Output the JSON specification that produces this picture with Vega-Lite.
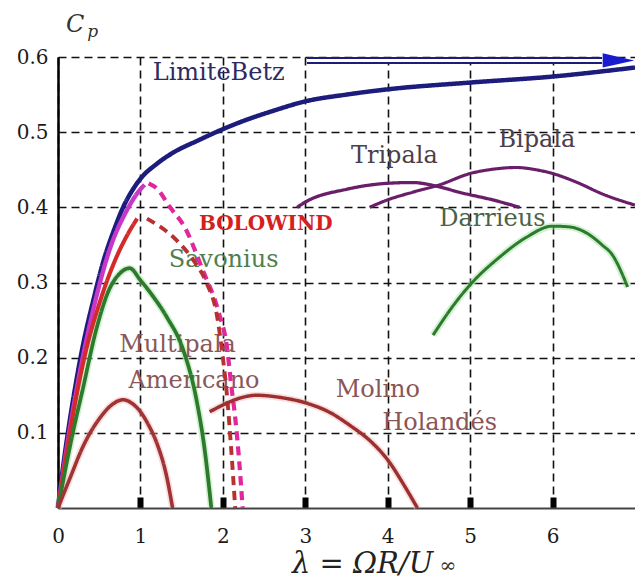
{
  "$schema": "https://vega.github.io/schema/vega-lite/v6.json",
  "width": 577,
  "height": 451,
  "autosize": {"type": "none"},
  "padding": {"left": 58, "top": 57, "right": 0, "bottom": 71},
  "background": "white",
  "config": {"view": {"stroke": null}, "font": "DejaVu Serif"},
  "resolve": {"scale": {"color": "independent", "strokeDash": "independent", "strokeWidth": "independent"}},
  "datasets": {
    "curves": [
      {"s": "ideal", "x": 0, "y": 0}, {"s": "ideal", "x": 0.05, "y": 0.045}, {"s": "ideal", "x": 0.12, "y": 0.1}, {"s": "ideal", "x": 0.2, "y": 0.155}, {"s": "ideal", "x": 0.3, "y": 0.215}, {"s": "ideal", "x": 0.43, "y": 0.277}, {"s": "ideal", "x": 0.55, "y": 0.328}, {"s": "ideal", "x": 0.68, "y": 0.37}, {"s": "ideal", "x": 0.79, "y": 0.4}, {"s": "ideal", "x": 0.91, "y": 0.424}, {"s": "ideal", "x": 1.0, "y": 0.438}, {"s": "ideal", "x": 1.2, "y": 0.458}, {"s": "ideal", "x": 1.4, "y": 0.473}, {"s": "ideal", "x": 1.7, "y": 0.489}, {"s": "ideal", "x": 2.0, "y": 0.504}, {"s": "ideal", "x": 2.3, "y": 0.517}, {"s": "ideal", "x": 2.6, "y": 0.528}, {"s": "ideal", "x": 3.0, "y": 0.541}, {"s": "ideal", "x": 3.5, "y": 0.55}, {"s": "ideal", "x": 4.0, "y": 0.557}, {"s": "ideal", "x": 5.0, "y": 0.566}, {"s": "ideal", "x": 6.0, "y": 0.574}, {"s": "ideal", "x": 7.0, "y": 0.586},
      {"s": "magenta", "x": 0, "y": 0}, {"s": "magenta", "x": 0.12, "y": 0.09}, {"s": "magenta", "x": 0.3, "y": 0.2}, {"s": "magenta", "x": 0.43, "y": 0.265}, {"s": "magenta", "x": 0.63, "y": 0.345}, {"s": "magenta", "x": 0.84, "y": 0.397}, {"s": "magenta", "x": 0.97, "y": 0.42}, {"s": "magenta", "x": 1.05, "y": 0.43},
      {"s": "magentaDash", "x": 1.1, "y": 0.432}, {"s": "magentaDash", "x": 1.2, "y": 0.425}, {"s": "magentaDash", "x": 1.36, "y": 0.4}, {"s": "magentaDash", "x": 1.54, "y": 0.373}, {"s": "magentaDash", "x": 1.75, "y": 0.318}, {"s": "magentaDash", "x": 1.95, "y": 0.26}, {"s": "magentaDash", "x": 2.05, "y": 0.214}, {"s": "magentaDash", "x": 2.1, "y": 0.165}, {"s": "magentaDash", "x": 2.15, "y": 0.12}, {"s": "magentaDash", "x": 2.2, "y": 0.06}, {"s": "magentaDash", "x": 2.24, "y": 0},
      {"s": "red", "x": 0, "y": 0}, {"s": "red", "x": 0.1, "y": 0.07}, {"s": "red", "x": 0.2, "y": 0.135}, {"s": "red", "x": 0.33, "y": 0.205}, {"s": "red", "x": 0.51, "y": 0.275}, {"s": "red", "x": 0.71, "y": 0.334}, {"s": "red", "x": 0.85, "y": 0.365}, {"s": "red", "x": 0.96, "y": 0.385},
      {"s": "redDash", "x": 1.08, "y": 0.385}, {"s": "redDash", "x": 1.44, "y": 0.356}, {"s": "redDash", "x": 1.64, "y": 0.33}, {"s": "redDash", "x": 1.8, "y": 0.3}, {"s": "redDash", "x": 1.93, "y": 0.255}, {"s": "redDash", "x": 2.0, "y": 0.2}, {"s": "redDash", "x": 2.05, "y": 0.15}, {"s": "redDash", "x": 2.1, "y": 0.08}, {"s": "redDash", "x": 2.15, "y": 0},
      {"s": "savonius", "x": 0, "y": 0}, {"s": "savonius", "x": 0.18, "y": 0.1}, {"s": "savonius", "x": 0.3, "y": 0.158}, {"s": "savonius", "x": 0.47, "y": 0.24}, {"s": "savonius", "x": 0.61, "y": 0.288}, {"s": "savonius", "x": 0.75, "y": 0.312}, {"s": "savonius", "x": 0.87, "y": 0.319}, {"s": "savonius", "x": 1.0, "y": 0.303}, {"s": "savonius", "x": 1.15, "y": 0.282}, {"s": "savonius", "x": 1.32, "y": 0.254}, {"s": "savonius", "x": 1.52, "y": 0.21}, {"s": "savonius", "x": 1.68, "y": 0.144}, {"s": "savonius", "x": 1.78, "y": 0.077}, {"s": "savonius", "x": 1.86, "y": 0},
      {"s": "multipala", "x": 0, "y": 0}, {"s": "multipala", "x": 0.15, "y": 0.041}, {"s": "multipala", "x": 0.3, "y": 0.081}, {"s": "multipala", "x": 0.51, "y": 0.12}, {"s": "multipala", "x": 0.65, "y": 0.137}, {"s": "multipala", "x": 0.79, "y": 0.144}, {"s": "multipala", "x": 0.9, "y": 0.139}, {"s": "multipala", "x": 1.0, "y": 0.128}, {"s": "multipala", "x": 1.1, "y": 0.11}, {"s": "multipala", "x": 1.2, "y": 0.086}, {"s": "multipala", "x": 1.32, "y": 0.041}, {"s": "multipala", "x": 1.39, "y": 0},
      {"s": "molino", "x": 1.84, "y": 0.128}, {"s": "molino", "x": 2.0, "y": 0.137}, {"s": "molino", "x": 2.2, "y": 0.146}, {"s": "molino", "x": 2.41, "y": 0.15}, {"s": "molino", "x": 2.7, "y": 0.147}, {"s": "molino", "x": 3.0, "y": 0.14}, {"s": "molino", "x": 3.3, "y": 0.127}, {"s": "molino", "x": 3.54, "y": 0.11}, {"s": "molino", "x": 3.8, "y": 0.088}, {"s": "molino", "x": 4.0, "y": 0.064}, {"s": "molino", "x": 4.2, "y": 0.03}, {"s": "molino", "x": 4.36, "y": 0},
      {"s": "tripala", "x": 2.9, "y": 0.4}, {"s": "tripala", "x": 3.0, "y": 0.407}, {"s": "tripala", "x": 3.5, "y": 0.424}, {"s": "tripala", "x": 4.0, "y": 0.432}, {"s": "tripala", "x": 4.3, "y": 0.433}, {"s": "tripala", "x": 4.6, "y": 0.428}, {"s": "tripala", "x": 4.87, "y": 0.42}, {"s": "tripala", "x": 5.27, "y": 0.41}, {"s": "tripala", "x": 5.6, "y": 0.4},
      {"s": "bipala", "x": 3.78, "y": 0.4}, {"s": "bipala", "x": 4.0, "y": 0.41}, {"s": "bipala", "x": 4.3, "y": 0.42}, {"s": "bipala", "x": 4.63, "y": 0.43}, {"s": "bipala", "x": 5.0, "y": 0.445}, {"s": "bipala", "x": 5.3, "y": 0.451}, {"s": "bipala", "x": 5.56, "y": 0.453}, {"s": "bipala", "x": 5.8, "y": 0.45}, {"s": "bipala", "x": 6.0, "y": 0.445}, {"s": "bipala", "x": 6.3, "y": 0.433}, {"s": "bipala", "x": 6.6, "y": 0.418}, {"s": "bipala", "x": 7.0, "y": 0.403},
      {"s": "darrieus", "x": 4.55, "y": 0.23}, {"s": "darrieus", "x": 4.8, "y": 0.27}, {"s": "darrieus", "x": 5.0, "y": 0.297}, {"s": "darrieus", "x": 5.36, "y": 0.334}, {"s": "darrieus", "x": 5.68, "y": 0.36}, {"s": "darrieus", "x": 6.0, "y": 0.375}, {"s": "darrieus", "x": 6.2, "y": 0.374}, {"s": "darrieus", "x": 6.41, "y": 0.366}, {"s": "darrieus", "x": 6.6, "y": 0.35}, {"s": "darrieus", "x": 6.73, "y": 0.336}, {"s": "darrieus", "x": 6.85, "y": 0.31}, {"s": "darrieus", "x": 6.91, "y": 0.294}
    ],
    "labels": [
      {"t": "LimiteBetz", "x": 1.95, "y": 0.569},
      {"t": "Tripala", "x": 4.08, "y": 0.459},
      {"t": "Bipala", "x": 5.81, "y": 0.48},
      {"t": "Darrieus", "x": 5.27, "y": 0.375},
      {"t": "Savonius", "x": 2.01, "y": 0.32},
      {"t": "Multipala", "x": 1.45, "y": 0.207},
      {"t": "Americano", "x": 1.65, "y": 0.16},
      {"t": "Molino", "x": 3.88, "y": 0.148},
      {"t": "Holandés", "x": 4.63, "y": 0.104}
    ],
    "bold": [{"t": "BOLOWIND", "x": 2.52, "y": 0.37}],
    "cap": [{"t": "C", "x": 0.21, "y": 0.633}],
    "sub": [{"t": "p", "x": 0.42, "y": 0.627}],
    "inf": [{"t": "∞", "x": 4.73, "y": -0.085}],
    "betz": [{"x": 3.02, "y": 0.5955}, {"x": 6.6, "y": 0.5955}],
    "arrow": [{"x": 6.8, "y": 0.5955}]
  },
  "layer": [
    {
      "data": {"name": "curves"},
      "transform": [{"filter": "indexof(['savonius','darrieus','multipala','molino'], datum.s) >= 0"}],
      "mark": {"type": "line", "strokeWidth": 7, "opacity": 0.45, "interpolate": "monotone"},
      "encoding": {
        "x": {"field": "x", "type": "quantitative", "scale": {"domain": [0, 7], "nice": false, "zero": false},
          "axis": {
            "title": "λ = ΩR/U",
            "values": [0, 1, 2, 3, 4, 5, 6],
            "format": "d",
            "grid": true, "gridColor": "#111", "gridDash": [8, 5], "gridWidth": 1.6,
            "domainColor": "#444", "domainWidth": 2,
            "ticks": true, "tickSize": -11, "tickWidth": 6,
            "tickColor": {"condition": {"test": "datum.value === 0", "value": "transparent"}, "value": "#000"},
            "labelFont": "DejaVu Serif", "labelFontSize": 20, "labelColor": "#1a1a1a", "labelPadding": 29,
            "labelFlush": false, "labelOverlap": false,
            "titleFont": "DejaVu Serif", "titleFontSize": 29, "titleFontStyle": "italic", "titleFontWeight": "normal", "titleColor": "#222",
            "titleX": 304, "titleY": 64, "titleBaseline": "alphabetic", "titleAlign": "center"
          }},
        "y": {"field": "y", "type": "quantitative", "scale": {"domain": [0, 0.6], "nice": false, "zero": false},
          "axis": {
            "title": null,
            "values": [0.1, 0.2, 0.3, 0.4, 0.5, 0.6],
            "format": ".1f",
            "grid": true, "gridColor": "#111", "gridDash": [8, 5], "gridWidth": 1.6,
            "domainColor": "#000", "domainWidth": 2.5,
            "ticks": false,
            "labelFont": "DejaVu Serif", "labelFontSize": 20, "labelColor": "#1a1a1a", "labelPadding": 10
          }},
        "color": {"field": "s", "type": "nominal", "legend": null,
          "scale": {"domain": ["savonius", "darrieus", "multipala", "molino"], "range": ["#9be09b", "#9be09b", "#f2b8b8", "#f2b8b8"]}},
        "detail": {"field": "s"}
      }
    },
    {
      "data": {"name": "labels"},
      "mark": {"type": "text", "font": "DejaVu Serif", "fontSize": 24, "align": "center", "baseline": "alphabetic"},
      "encoding": {
        "x": {"field": "x", "type": "quantitative"},
        "y": {"field": "y", "type": "quantitative"},
        "text": {"field": "t"},
        "color": {"field": "t", "type": "nominal", "legend": null,
          "scale": {"domain": ["LimiteBetz", "Tripala", "Bipala", "Darrieus", "Savonius", "Multipala", "Americano", "Molino", "Holandés"],
            "range": ["#2b2b62", "#4a404a", "#4a404a", "#4a634a", "#4f7f4f", "#8a5858", "#8a5858", "#8a5555", "#8a5555"]}}
      }
    },
    {
      "data": {"name": "bold"},
      "mark": {"type": "text", "font": "DejaVu Serif", "fontSize": 20, "fontWeight": "bold", "align": "center", "baseline": "alphabetic", "color": "#d42020"},
      "encoding": {
        "x": {"field": "x", "type": "quantitative"},
        "y": {"field": "y", "type": "quantitative"},
        "text": {"field": "t"}
      }
    },
    {
      "data": {"name": "curves"},
      "mark": {"type": "line", "strokeCap": "butt", "interpolate": "monotone"},
      "encoding": {
        "x": {"field": "x", "type": "quantitative"},
        "y": {"field": "y", "type": "quantitative"},
        "color": {"field": "s", "type": "nominal", "legend": null,
          "scale": {"domain": ["ideal", "magenta", "magentaDash", "red", "redDash", "savonius", "multipala", "molino", "tripala", "bipala", "darrieus"],
            "range": ["#1c1c7c", "#c838c8", "#e0289c", "#d42a2a", "#b83030", "#2d7a2d", "#a03434", "#9c3030", "#6a1e6a", "#6a1e6a", "#2d7a2d"]}},
        "strokeDash": {"field": "s", "type": "nominal", "legend": null,
          "scale": {"domain": ["ideal", "magenta", "magentaDash", "red", "redDash", "savonius", "multipala", "molino", "tripala", "bipala", "darrieus"],
            "range": [[1, 0], [1, 0], [9, 6], [1, 0], [9, 6], [1, 0], [1, 0], [1, 0], [1, 0], [1, 0], [1, 0]]}},
        "strokeWidth": {"field": "s", "type": "nominal", "legend": null,
          "scale": {"domain": ["ideal", "magenta", "magentaDash", "red", "redDash", "savonius", "multipala", "molino", "tripala", "bipala", "darrieus"],
            "range": [4.5, 3, 3.5, 3, 3.5, 3.5, 3.5, 3.5, 3.5, 3.5, 3.5]}}
      }
    },
    {
      "mark": {"type": "rule", "color": "#111", "strokeWidth": 2},
      "encoding": {"y": {"datum": 0.6}}
    },
    {
      "data": {"name": "betz"},
      "mark": {"type": "line", "color": "#1c1c7c", "strokeWidth": 7, "strokeCap": "butt"},
      "encoding": {"x": {"field": "x", "type": "quantitative"}, "y": {"field": "y", "type": "quantitative"}}
    },
    {
      "data": {"name": "betz"},
      "mark": {"type": "line", "color": "#ffffff", "strokeWidth": 3, "strokeCap": "butt"},
      "encoding": {"x": {"field": "x", "type": "quantitative"}, "y": {"field": "y", "type": "quantitative"}}
    },
    {
      "data": {"name": "arrow"},
      "mark": {"type": "point", "shape": "M-1,-0.45L1,0L-1,0.45Z", "size": 1000, "filled": true, "color": "#1a1ad0", "opacity": 1},
      "encoding": {"x": {"field": "x", "type": "quantitative"}, "y": {"field": "y", "type": "quantitative"}}
    },
    {
      "data": {"name": "cap"},
      "mark": {"type": "text", "font": "DejaVu Serif", "fontSize": 24, "fontStyle": "italic", "align": "center", "baseline": "alphabetic", "color": "#333"},
      "encoding": {"x": {"field": "x", "type": "quantitative"}, "y": {"field": "y", "type": "quantitative"}, "text": {"field": "t"}}
    },
    {
      "data": {"name": "sub"},
      "mark": {"type": "text", "font": "DejaVu Serif", "fontSize": 17, "fontStyle": "italic", "align": "center", "baseline": "alphabetic", "color": "#333"},
      "encoding": {"x": {"field": "x", "type": "quantitative"}, "y": {"field": "y", "type": "quantitative"}, "text": {"field": "t"}}
    },
    {
      "data": {"name": "inf"},
      "mark": {"type": "text", "font": "DejaVu Serif", "fontSize": 20, "align": "center", "baseline": "alphabetic", "color": "#333"},
      "encoding": {"x": {"field": "x", "type": "quantitative"}, "y": {"field": "y", "type": "quantitative"}, "text": {"field": "t"}}
    }
  ]
}
